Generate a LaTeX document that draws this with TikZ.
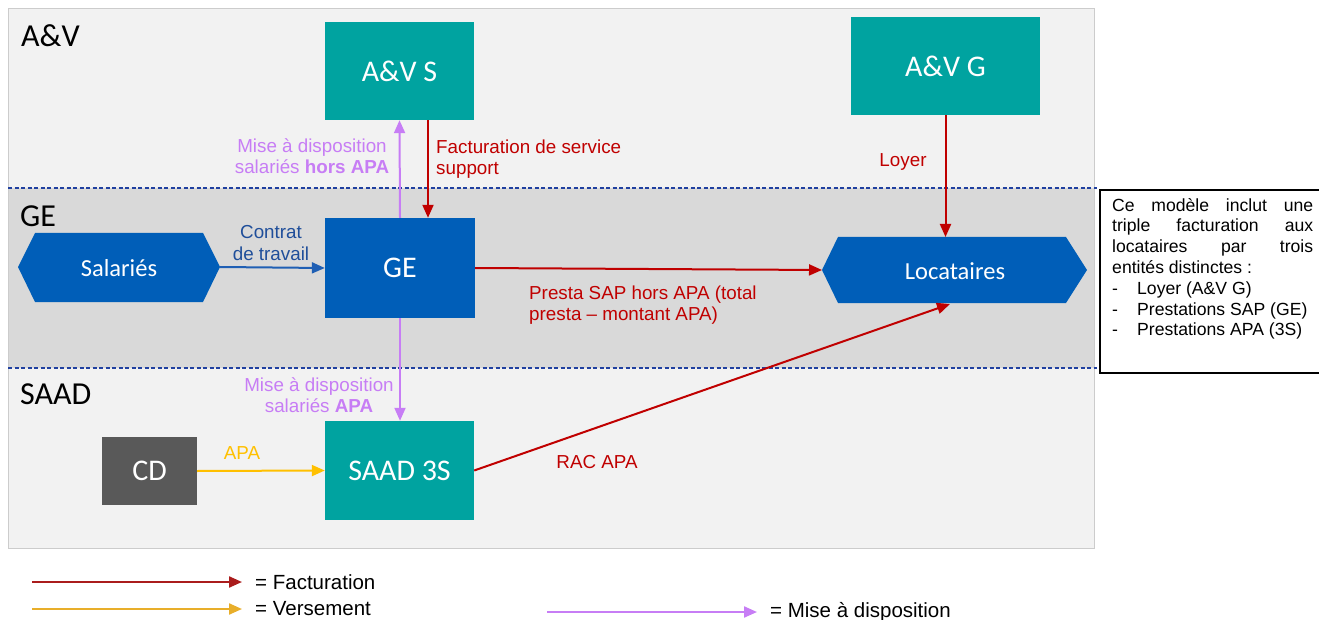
\documentclass[tikz,border=0pt]{standalone}
\usepackage{fontspec}
\setmainfont{Liberation Sans}
\newfontfamily\carl{Carlito}
\usetikzlibrary{arrows.meta}
\definecolor{avteal}{RGB}{0,163,160}
\definecolor{geblue}{RGB}{0,94,184}
\definecolor{cdgray}{RGB}{89,89,89}
\definecolor{bglight}{RGB}{242,242,242}
\definecolor{bgband}{RGB}{217,217,217}
\definecolor{dashblue}{RGB}{32,64,160}
\definecolor{factred}{RGB}{192,0,0}
\definecolor{madpurple}{RGB}{199,125,245}
\definecolor{versyellow}{RGB}{255,192,0}
\definecolor{ctblue}{RGB}{31,95,180}
\definecolor{cttext}{RGB}{31,78,154}
\definecolor{legred}{RGB}{170,28,28}
\definecolor{legyellow}{RGB}{232,174,42}
\begin{document}
\begin{tikzpicture}[x=1pt,y=-1pt,
  box/.style={rectangle, inner sep=0pt, text=white, font=\carl\fontsize{30}{36}\selectfont},
  hexlbl/.style={inner sep=0pt, text=white, font=\carl\fontsize{24.5}{28}\selectfont},
  region/.style={inner sep=0pt, anchor=west, text=black, font=\carl\fontsize{32}{36}\selectfont},
  lbl/.style={inner sep=0pt, align=center, font=\fontsize{18.8}{21.5}\selectfont},
  tip/.style={-{Triangle[length=13pt,width=11pt]}},
  fact/.style={draw=factred, line width=2pt, tip},
  mad/.style={draw=madpurple, line width=2pt, tip},
  vers/.style={draw=versyellow, line width=2pt, tip},
  ctr/.style={draw=ctblue, line width=2pt, tip},
  sep/.style={draw=dashblue, line width=1.3pt, dash pattern=on 4pt off 2.5pt},
  legtxt/.style={inner sep=0pt, anchor=west, font=\fontsize{20.5}{24}\selectfont}
]
\useasboundingbox (0,0) rectangle (1319,620);
% background panels
\fill[bglight] (8,8) rectangle (1094,548);
\fill[bgband] (8,188) rectangle (1094,368);
\draw[black!20, line width=0.8pt] (8,8) rectangle (1094,548);
\draw[sep] (8,188) -- (1097,188);
\draw[sep] (8,368) -- (1097,368);
% region labels
\node[region] (rav) at (21,36) {A\&V};
\node[region] (rge) at (20,216) {GE};
\node[region] (rsaad) at (20,394) {SAAD};
% boxes
\node[box, fill=avteal, minimum width=149pt, minimum height=98pt] (avs) at (399.5,71) {A\&V S};
\node[box, fill=avteal, minimum width=189pt, minimum height=98pt] (avg) at (945.5,66) {A\&V G};
\node[box, fill=geblue, minimum width=150pt, minimum height=100pt] (ge) at (400,268) {GE};
\node[box, fill=avteal, minimum width=149pt, minimum height=99pt] (saad) at (399.5,470.5) {SAAD 3S};
\node[box, fill=cdgray, minimum width=95pt, minimum height=68pt] (cd) at (149.5,471) {CD};
% hexagons
\fill[geblue] (18,267) -- (35,233) -- (203,233) -- (220,267) -- (203,302) -- (35,302) -- cycle;
\node[hexlbl] (sal) at (119,268) {Salariés};
\coordinate (salR) at (220,267);
\fill[geblue] (822,270) -- (838,237) -- (1066,237) -- (1087,270) -- (1066,303) -- (838,303) -- cycle;
\node[hexlbl] (loc) at (955,271) {Locataires};
\coordinate (locL) at (822,270);
\coordinate (locT) at (945.5,237);
\coordinate (locB) at (950,304);
% connectors
\draw[mad] (ge.north) -- (avs.south);
\draw[fact] ([xshift=28.5pt]avs.south) -- ([xshift=28pt]ge.north);
\draw[ctr] (salR) -- (ge.west);
\draw[fact] (ge.east) -- (locL);
\draw[fact] (avg.south) -- (locT);
\draw[mad] (ge.south) -- ([xshift=0.5pt]saad.north);
\draw[vers] (cd.east) -- (saad.west);
\draw[fact] (saad.east) -- (locB);
% connector labels
\node[lbl, text=madpurple] (l1) at (312,156) {Mise à disposition\\salariés \textbf{hors APA}};
\node[lbl, text=factred, anchor=west, align=left] (l2) at (436,159) {Facturation de service\\support};
\node[lbl, text=cttext] (l3) at (271,243) {Contrat\\de travail};
\node[lbl, text=factred, anchor=west, align=left] (l4) at (529,305) {Presta SAP hors APA (total\\presta – montant APA)};
\node[lbl, text=factred] (l5) at (903,162) {Loyer};
\node[lbl, text=madpurple] (l6) at (319,395) {Mise à disposition\\salariés \textbf{APA}};
\node[lbl, text=versyellow] (l7) at (242,453) {APA};
\node[lbl, text=factred] (l8) at (597,462) {RAC APA};
% note
\draw[black, line width=1.2pt] (1100,190) rectangle (1324,373);
\node[inner sep=0pt, anchor=north west, align=left, font=\fontsize{17.6}{20.8}\selectfont] (note) at (1112,198) {%
\makebox[201pt][s]{Ce modèle inclut une}\\
\makebox[201pt][s]{triple facturation aux}\\
\makebox[201pt][s]{locataires par trois}\\
entités distinctes :\\
\makebox[25pt][l]{-}Loyer (A\&V G)\\
\makebox[25pt][l]{-}Prestations SAP (GE)\\
\makebox[25pt][l]{-}Prestations APA (3S)};
% legend
\coordinate (lf1) at (32,582); \coordinate (lf2) at (242,582);
\coordinate (lv1) at (32,609); \coordinate (lv2) at (242,609);
\coordinate (lm1) at (547,612); \coordinate (lm2) at (757,612);
\draw[draw=legred, line width=2.2pt, tip] (lf1) -- (lf2);
\draw[draw=legyellow, line width=2.2pt, tip] (lv1) -- (lv2);
\draw[draw=madpurple, line width=2.2pt, tip] (lm1) -- (lm2);
\node[legtxt] (tf) at (255,582) {= Facturation};
\node[legtxt] (tv) at (255,609) {= Versement};
\node[legtxt] (tm) at (770,612) {= Mise à disposition};
\end{tikzpicture}
\end{document}
